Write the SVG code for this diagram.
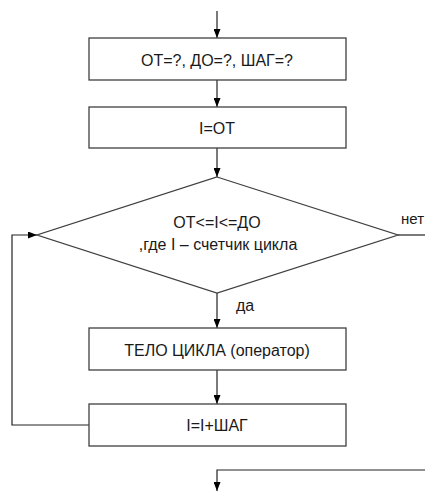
<svg xmlns="http://www.w3.org/2000/svg" width="425" height="492" viewBox="0 0 425 492">
<defs>
<marker id="arr" markerWidth="9" markerHeight="7" refX="9" refY="3.5" orient="auto" markerUnits="userSpaceOnUse">
<path d="M0,0 L9,3.5 L0,7 Z" fill="#000"/>
</marker>
<style>
.box{fill:#fff;stroke:#404040;stroke-width:1.3}
.ln{fill:none;stroke:#222;stroke-width:1.2}
text{font-family:"Liberation Sans",Arial,sans-serif;font-size:16px;fill:#1a1a1a}
.c{text-anchor:middle}
</style>
</defs>
<rect width="425" height="492" fill="#fff"/>
<g id="connectors">
<line class="ln" x1="217" y1="11" x2="217" y2="38" marker-end="url(#arr)"/>
<line class="ln" x1="217" y1="80" x2="217" y2="107" marker-end="url(#arr)"/>
<line class="ln" x1="217" y1="148" x2="217" y2="177" marker-end="url(#arr)"/>
<line class="ln" x1="217" y1="293" x2="217" y2="328" marker-end="url(#arr)"/>
<line class="ln" x1="217" y1="370" x2="217" y2="404" marker-end="url(#arr)"/>
<polyline class="ln" points="89,425 12,425 12,235 37,235" marker-end="url(#arr)"/>
<line class="ln" x1="398" y1="235" x2="425" y2="235"/>
<polyline class="ln" points="425,470 217,470 217,491" marker-end="url(#arr)"/>
<text x="236" y="311">да</text>
<text x="401" y="224" style="font-size:15px">нет</text>
</g>
<g id="init">
<rect class="box" x="89" y="38" width="257" height="42"/>
<text class="c" x="217" y="66">ОТ=?, ДО=?, ШАГ=?</text>
</g>
<g id="assign">
<rect class="box" x="89" y="107" width="257" height="41"/>
<text class="c" x="217" y="134">I=ОТ</text>
</g>
<g id="cond">
<polygon class="box" points="217,177 398,235 217,293 37,235"/>
<text class="c" x="217" y="228">ОТ&lt;=I&lt;=ДО</text>
<text class="c" x="218" y="250">,где I – счетчик цикла</text>
</g>
<g id="body">
<rect class="box" x="89" y="328" width="257" height="42"/>
<text class="c" x="217" y="356">ТЕЛО ЦИКЛА (оператор)</text>
</g>
<g id="step">
<rect class="box" x="89" y="404" width="257" height="42"/>
<text class="c" x="217" y="431">I=I+ШАГ</text>
</g>
</svg>
